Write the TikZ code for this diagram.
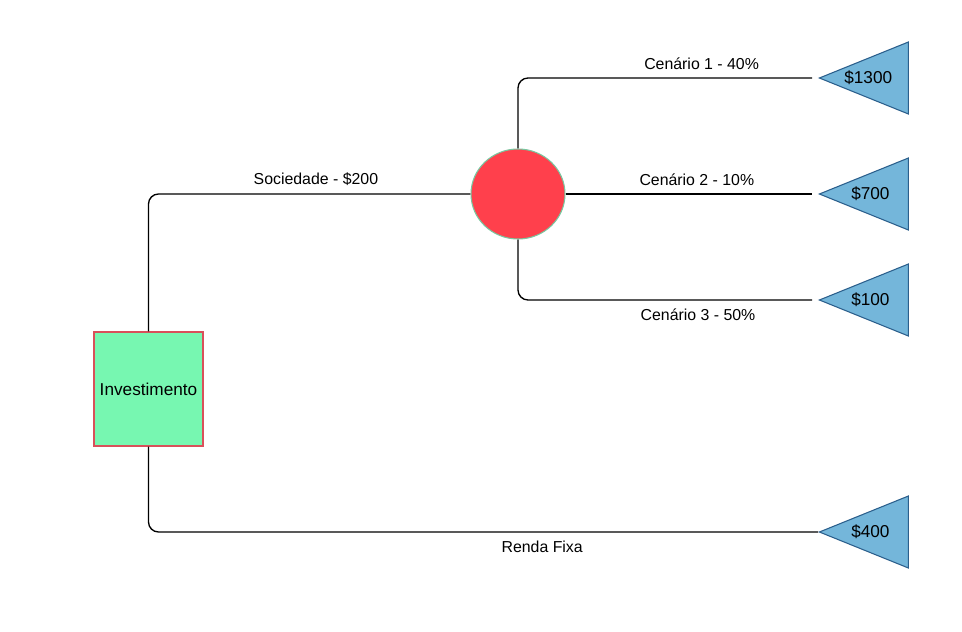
\documentclass[tikz,border=0pt]{standalone}
\usepackage{fontspec}
\setmainfont{Liberation Sans}
\usetikzlibrary{shapes.geometric}

\definecolor{boxfill}{RGB}{119,247,177}
\definecolor{boxline}{RGB}{217,80,90}
\definecolor{chancefill}{RGB}{255,64,76}
\definecolor{chanceline}{RGB}{121,199,160}
\definecolor{endfill}{RGB}{116,182,218}
\definecolor{endline}{RGB}{43,95,140}

\begin{document}
\begin{tikzpicture}[x=0.75pt,y=-0.75pt]
		% Define styles for the tree
		\tikzset{decision/.style={draw=boxline, fill=boxfill, line width=0.8pt, minimum width=81.75pt, minimum height=85.5pt, inner sep=0pt, font=\fontsize{12.9}{15}\selectfont}}
		\tikzset{chance/.style={ellipse, draw=chanceline, fill=chancefill, line width=0.8pt, minimum width=70.5pt, minimum height=67.5pt, inner sep=0pt}}
		\tikzset{payoff/.style={isosceles triangle, isosceles triangle stretches, shape border rotate=180, anchor=apex, draw=endline, fill=endfill, line width=0.8pt, minimum width=54pt, minimum height=66.75pt, inner sep=0pt, font=\fontsize{12.9}{15}\selectfont}}
		\tikzset{branch/.style={line width=1pt, rounded corners=7.5pt}}
		\tikzset{lbl/.style={font=\fontsize{11.9}{14}\selectfont, inner xsep=3pt, inner ysep=6pt}}
		
		% Fix the page size
		\useasboundingbox (0,0) rectangle (962,631);
		
		% Draw the nodes
		\node[decision] (inv) at (148.5,389) {Investimento};
		\node[chance] (soc) at (518,194) {};
		\node[payoff] (c1) at (818,78) {\$1300\kern10pt};
		\node[payoff] (c2) at (818,194) {\$700\kern10pt};
		\node[payoff] (c3) at (818,300) {\$100\kern10pt};
		\node[payoff] (rf) at (818,532) {\$400\kern10pt};
		
		% Draw the branches with their labels
		\draw[branch] (inv.north) |- node[lbl, pos=0.76, above] {Sociedade - \$200} (soc.west);
		\draw[branch, shorten >=4.5pt] (soc.north) |- node[lbl, pos=0.806, above] {Cenário 1 - 40\%} (c1.apex);
		\draw[branch, shorten >=4.5pt] (soc.east) -- node[lbl, pos=0.52, above] {Cenário 2 - 10\%} (soc.east -| c2.apex);
		\draw[branch, shorten >=4.5pt] (soc.south) |- node[lbl, pos=0.8, below] {Cenário 3 - 50\%} (c3.apex);
		\draw[branch] (inv.south) |- node[lbl, pos=0.794, below] {Renda Fixa} (rf.apex);
	\end{tikzpicture}
\end{document}
